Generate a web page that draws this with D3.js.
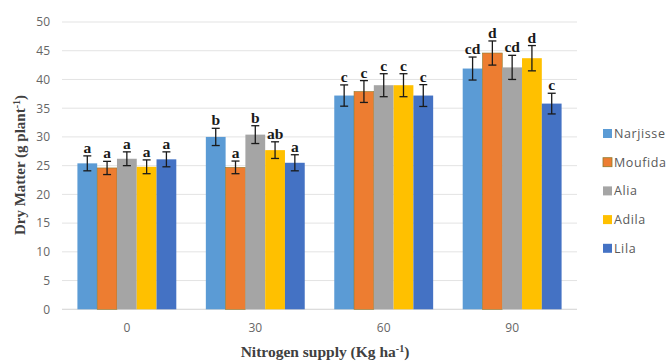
<!DOCTYPE html>
<html>
<head>
<meta charset="utf-8">
<script src="https://cdn.jsdelivr.net/npm/d3@7/dist/d3.min.js"></script>
<style>
  html, body { margin: 0; padding: 0; background: #fff; }
  svg { display: block; }
</style>
</head>
<body>
<svg id="chart" width="670" height="361"></svg>
<script>
// Nitrogen rates (x groups) and cultivars (series)
const nitrogen = ["0", "30", "60", "90"];
const cultivars = ["Narjisse", "Moufida", "Alia", "Adila", "Lila"];
const colors = ["#5B9BD5", "#ED7D31", "#A5A5A5", "#FFC000", "#4472C4"];

// Mean dry matter per cultivar, one entry per nitrogen rate
const narjisse = [25.4, 30.0, 37.2, 41.9];
const moufida  = [24.6, 24.7, 37.9, 44.6];
const alia     = [26.2, 30.4, 39.0, 42.1];
const adila    = [24.8, 27.7, 39.0, 43.7];
const lila     = [26.1, 25.5, 37.2, 35.8];

// Standard errors
const narjisseErr = [1.3, 1.5, 1.85, 2.0];
const moufidaErr  = [1.15, 1.1, 1.9, 2.1];
const aliaErr     = [1.2, 1.55, 2.0, 2.1];
const adilaErr    = [1.2, 1.45, 2.0, 2.2];
const lilaErr     = [1.3, 1.4, 1.9, 1.8];

// Significance letters
const narjisseSig = ["a", "b", "c", "cd"];
const moufidaSig  = ["a", "a", "c", "d"];
const aliaSig     = ["a", "b", "c", "cd"];
const adilaSig    = ["a", "ab", "c", "d"];
const lilaSig     = ["a", "a", "c", "c"];

const yTicks = [0, 5, 10, 15, 20, 25, 30, 35, 40, 45, 50];

const values = [narjisse, moufida, alia, adila, lila];
const errors = [narjisseErr, moufidaErr, aliaErr, adilaErr, lilaErr];
const letters = [narjisseSig, moufidaSig, aliaSig, adilaSig, lilaSig];

const rows = [];
cultivars.forEach((c, si) => {
  nitrogen.forEach((n, gi) => {
    rows.push({ cultivar: c, n, si, value: values[si][gi], err: errors[si][gi], sig: letters[si][gi] });
  });
});

const svg = d3.select("#chart");
const plot = { left: 62, right: 577, top: 22, bottom: 309.3 };

const x0 = d3.scaleBand().domain(nitrogen).range([plot.left, plot.right]).paddingInner(0.23).paddingOuter(0.12);
const x1 = d3.scaleBand().domain(cultivars).range([0, x0.bandwidth()]).padding(0);
const y = d3.scaleLinear().domain([0, 50]).range([plot.bottom, plot.top]);

// Gridlines
svg.append("g").selectAll("line").data(yTicks).join("line")
  .attr("x1", plot.left).attr("x2", plot.right)
  .attr("y1", d => y(d)).attr("y2", d => y(d))
  .attr("stroke", "#e3e3e3").attr("stroke-width", 1);

// Y axis labels
const yAxis = d3.axisLeft(y).tickValues(yTicks).tickSize(0).tickPadding(0);
svg.append("g").attr("transform", `translate(${plot.left - 12},0)`).call(yAxis)
  .call(g => g.select(".domain").remove())
  .call(g => g.selectAll("text").attr("fill", "#666").attr("font-size", "12px")
    .attr("font-family", "'Open Sans', 'Liberation Sans', sans-serif"));

// X axis labels
const xAxis = d3.axisBottom(x0).tickSize(0).tickPadding(0);
svg.append("g").attr("transform", `translate(0,${plot.bottom + 14})`).call(xAxis)
  .call(g => g.select(".domain").remove())
  .call(g => g.selectAll("text").attr("fill", "#666").attr("font-size", "12px")
    .attr("font-family", "'Open Sans', 'Liberation Sans', sans-serif"));

// Baseline
svg.append("line").attr("x1", plot.left).attr("x2", plot.right)
  .attr("y1", y(0)).attr("y2", y(0)).attr("stroke", "#d9d9d9");

// Bars
const barX = d => x0(d.n) + x1(d.cultivar);
svg.append("g").selectAll("rect").data(rows).join("rect")
  .attr("x", barX)
  .attr("width", x1.bandwidth())
  .attr("y", d => y(d.value))
  .attr("height", d => y(0) - y(d.value))
  .attr("fill", d => colors[d.si])
  .attr("stroke", d => d.si === 1 ? "#8f7a2c" : "none")
  .attr("stroke-width", 0.6);

// Error bars
const eb = svg.append("g").attr("stroke", "#1a1a1a").attr("stroke-width", 1.3);
rows.forEach(d => {
  const cx = barX(d) + x1.bandwidth() / 2;
  const yt = y(d.value + d.err), yb = y(d.value - d.err);
  eb.append("line").attr("x1", cx).attr("x2", cx).attr("y1", yt).attr("y2", yb);
  eb.append("line").attr("x1", cx - 4).attr("x2", cx + 4).attr("y1", yt).attr("y2", yt);
  eb.append("line").attr("x1", cx - 4).attr("x2", cx + 4).attr("y1", yb).attr("y2", yb);
});

// Significance letters
svg.append("g").selectAll("text").data(rows).join("text")
  .attr("x", d => barX(d) + x1.bandwidth() / 2)
  .attr("y", d => y(d.value + d.err) - 3)
  .attr("text-anchor", "middle")
  .attr("font-family", "'Liberation Serif', 'DejaVu Serif', serif")
  .attr("font-weight", "bold")
  .attr("font-size", "15.5px")
  .attr("fill", "#1a1a1a")
  .text(d => d.sig);

// Legend
const legend = svg.append("g").attr("transform", "translate(603,129)");
cultivars.forEach((c, i) => {
  const g = legend.append("g").attr("transform", `translate(0,${i * 28.7})`);
  g.append("rect").attr("width", 9).attr("height", 9).attr("fill", colors[i])
    .attr("stroke", i === 1 ? "#8f7a2c" : "none").attr("stroke-width", 0.8);
  g.append("text").attr("x", 11).attr("y", 9).attr("font-size", "12.5px")
    .attr("letter-spacing", "0.6px")
    .attr("font-family", "'Open Sans', 'Liberation Sans', sans-serif")
    .attr("fill", "#595959").text(c);
});

// Axis titles
const xt = svg.append("text").attr("x", 325).attr("y", 357).attr("text-anchor", "middle")
  .attr("font-family", "'Liberation Serif', 'DejaVu Serif', serif").attr("font-weight", "bold")
  .attr("font-size", "15.5px").attr("fill", "#404040");
xt.append("tspan").text("Nitrogen supply (Kg ha");
xt.append("tspan").attr("dy", -5).attr("font-size", "10px").text("-1");
xt.append("tspan").attr("dy", 5).text(")");

const yt = svg.append("text").attr("transform", "translate(25,165) rotate(-90)").attr("text-anchor", "middle")
  .attr("font-family", "'Liberation Serif', 'DejaVu Serif', serif").attr("font-weight", "bold")
  .attr("font-size", "15px").attr("fill", "#404040");
yt.append("tspan").text("Dry Matter (g plant");
yt.append("tspan").attr("dy", -5).attr("font-size", "10px").text("-1");
yt.append("tspan").attr("dy", 5).text(")");
</script>
</body>
</html>
